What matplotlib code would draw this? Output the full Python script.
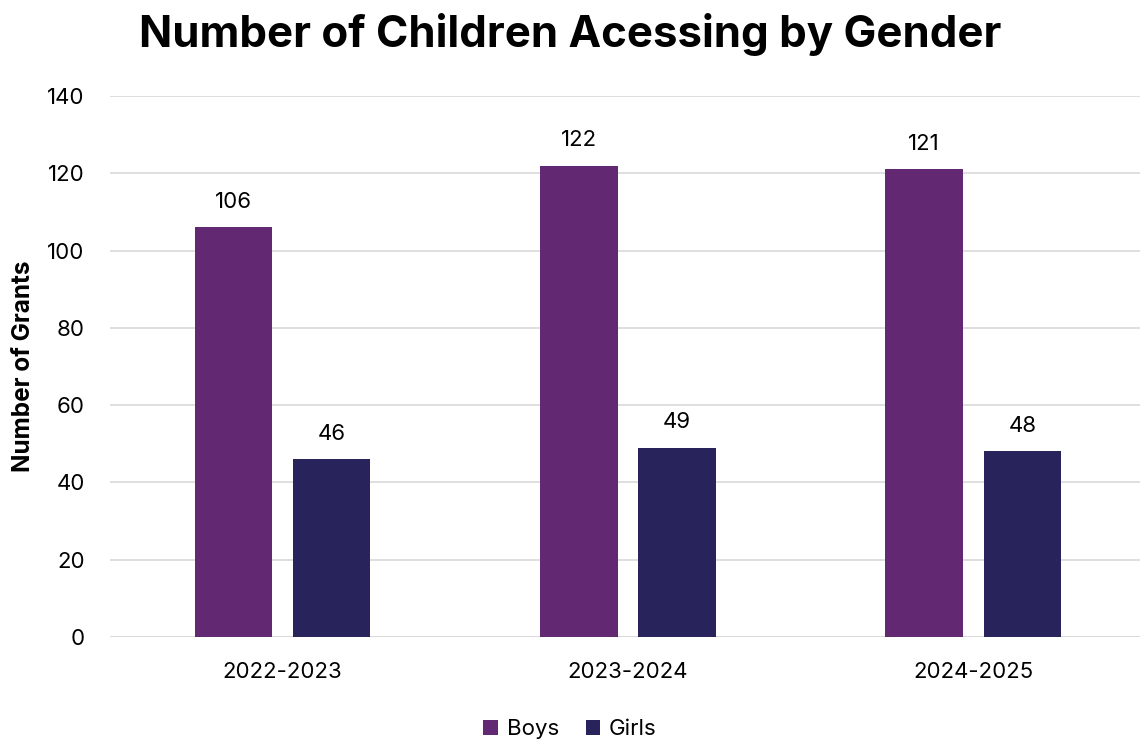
import numpy as np
import matplotlib.pyplot as plt

plt.rcParams['font.family'] = ['Inter', 'DejaVu Sans']

years = ["2022-2023", "2023-2024", "2024-2025"]
boys = [106, 122, 121]
girls = [46, 49, 48]

BOYS_COLOR = "#622872"
GIRLS_COLOR = "#28235A"

fig = plt.figure(figsize=(11.4, 7.43), dpi=100)
ax = fig.add_axes([0.0963, 0.1427, 0.909, 0.7281])

x = np.arange(len(years))
w = 0.225
off = 0.142
b1 = ax.bar(x - off, boys, w, color=BOYS_COLOR, label="Boys", zorder=3)
b2 = ax.bar(x + off, girls, w, color=GIRLS_COLOR, label="Girls", zorder=3)

for bars in (b1, b2):
    ax.bar_label(bars, padding=11, fontsize=16)

ax.set_xlim(-0.5, 2.5)
ax.set_ylim(0, 140)
ax.set_yticks(range(0, 141, 20))
ax.set_xticks(x)
ax.set_xticklabels(years)
ax.tick_params(axis='both', labelsize=16, length=0)
ax.tick_params(axis='x', pad=18)
ax.tick_params(axis='y', pad=18)
ax.yaxis.grid(True, color="#d9d9d9", linewidth=1.2, zorder=0)
for s in ax.spines.values():
    s.set_visible(False)
ax.axhline(0, color="#d9d9d9", linewidth=1.2, zorder=1)

ax.set_ylabel("Number of Grants", fontsize=17.5, fontweight="bold", labelpad=9)

fig.suptitle("Number of Children Acessing by Gender", fontsize=31.5, fontweight="bold",
             x=0.5, y=0.982)

fig.legend(handles=[b1, b2], labels=["Boys", "Girls"], loc="lower center",
           bbox_to_anchor=(0.5, -0.022), ncol=2, frameon=False, fontsize=16,
           handlelength=0.65, handleheight=0.65, handletextpad=0.4, columnspacing=1.2)

fig.savefig("out.png", dpi=100)
